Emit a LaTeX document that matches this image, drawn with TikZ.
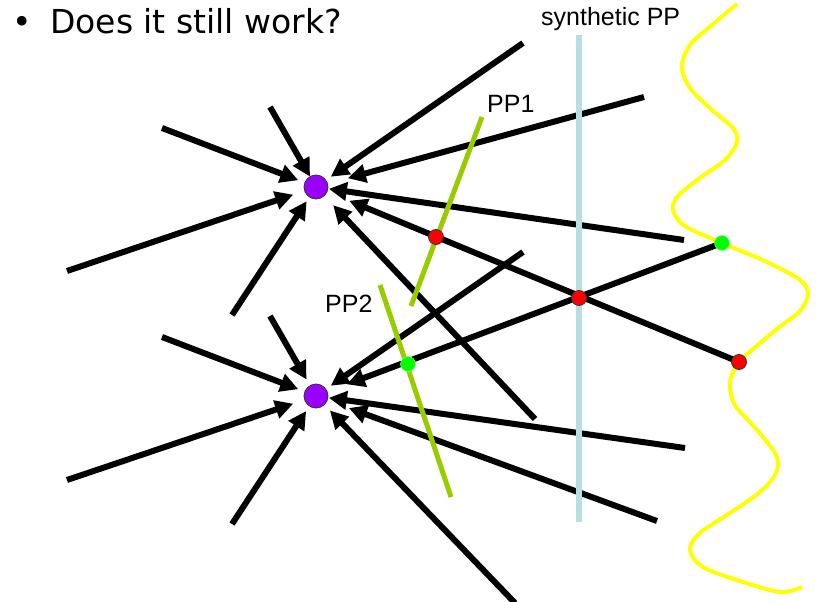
\documentclass[tikz,border=0pt]{standalone}
\usepackage{fontspec}
\setmainfont{Liberation Sans}
\newfontfamily\titlefont{DejaVu Sans}
\usetikzlibrary{arrows.meta}
\definecolor{ppgreen}{HTML}{99CC00}
\definecolor{synblue}{HTML}{B7DEE3}
\definecolor{curveyellow}{HTML}{FFFF00}
\definecolor{dotpurple}{HTML}{9900FF}
\definecolor{dotgreen}{HTML}{00FF00}
\tikzset{
  ray/.style={line width=6pt, -{Triangle[length=18pt,width=18pt]}},
  plane/.style={line width=5pt},
  target/.style={circle, fill=dotpurple, draw=black!80, line width=0.8pt, minimum size=24pt, inner sep=0pt, outer sep=0pt},
  reddot/.style={circle, fill=red, draw=black!80, line width=0.8pt, minimum size=15pt, inner sep=0pt},
  greendot/.style={circle, fill=dotgreen, draw=dotgreen!50!white, line width=0.5pt, minimum size=15pt, inner sep=0pt},
  lbl/.style={font=\fontsize{25}{30}\selectfont, inner sep=0pt, anchor=base west},
  ttl/.style={font=\titlefont\fontsize{33}{40}\selectfont, inner sep=0pt, anchor=base west}
}
\begin{document}
\begin{tikzpicture}[x=1pt,y=-1pt]
\fill[white] (0,0) rectangle (823,602);
\useasboundingbox (0,0) rectangle (823,602);

% title and labels
\node[ttl] (bullet) at (12,34) {•};
\node[ttl] (title) at (50,34) {Does it still work?};
\node[lbl] (synlabel) at (541,26) {synthetic PP};
\node[lbl] (pp1label) at (487,113) {PP1};
\node[lbl] (pp2label) at (325,312) {PP2};

% targets
\node[target] (P1) at (316,187) {};
\node[target] (P2) at (316,396) {};

% ray start points
\coordinate (a1) at (162,128);
\coordinate (a2) at (270,107);
\coordinate (a3) at (67,271);
\coordinate (a4) at (232,315);
\coordinate (a5) at (523,43);
\coordinate (a6) at (644,97);
\coordinate (a7) at (684,240);
\coordinate (r3) at (739,362);
\coordinate (a9) at (535,419);
\coordinate (b1) at (162,337);
\coordinate (b2) at (270,316);
\coordinate (b3) at (67,480);
\coordinate (b4) at (232,524);
\coordinate (b5) at (523,252);
\coordinate (g1) at (722,243);
\coordinate (b7) at (685,448);
\coordinate (b8) at (657,521);
\coordinate (b9) at (515,603);
\coordinate (r1) at (436,237);
\coordinate (r2) at (579,298);
\coordinate (g2) at (408,364);

% rays into P1
\draw[ray, shorten >=7pt] (a1) -- (P1);
\draw[ray, shorten >=0pt] (a2) -- (P1);
\draw[ray, shorten >=12pt] (a3) -- (P1);
\draw[ray, shorten >=5pt] (a4) -- (P1);
\draw[ray, shorten >=6pt] (a5) -- (P1);
\draw[ray, shorten >=21pt] (a6) -- (P1);
\draw[ray, shorten >=1pt] (a7) -- (P1);
\draw[ray, shorten >=24pt] (r3) -- (P1);
\draw[ray, shorten >=13pt] (a9) -- (P1);

% rays into P2
\draw[ray, shorten >=7pt] (b1) -- (P2);
\draw[ray, shorten >=7pt] (b2) -- (P2);
\draw[ray, shorten >=12pt] (b3) -- (P2);
\draw[ray, shorten >=6pt] (b4) -- (P2);
\draw[ray, shorten >=6pt] (b5) -- (P2);
\draw[ray, shorten >=21pt] (g1) -- (P2);
\draw[ray, shorten >=1pt] (b7) -- (P2);
\draw[ray, shorten >=23pt] (b8) -- (P2);
\draw[ray, shorten >=8pt] (b9) -- (P2);

% planes
\coordinate (pp1top) at (482,117);
\coordinate (pp1bot) at (411,306);
\coordinate (pp2top) at (380,285);
\coordinate (pp2bot) at (451,497);
\coordinate (syntop) at (579,35);
\coordinate (synbot) at (579,522);
\draw[plane, ppgreen] (pp1top) -- (pp1bot);
\draw[plane, ppgreen] (pp2top) -- (pp2bot);
\draw[line width=6pt, synblue] (syntop) -- (synbot);

% wavy surface
\draw[line width=4pt, curveyellow] plot[smooth, tension=0.55] coordinates {
 (737,4) (712,25) (690,45) (682,67) (690,88) (712,110) (733,128) (737,142)
 (725,160) (700,178) (678,196) (673,210) (685,226) (722,243) (767,262)
 (800,280) (808,294) (800,311) (777,329) (752,350) (739,362) (730,382)
 (735,405) (757,430) (776,455) (776,473) (760,492) (730,513) (700,533)
 (690,550) (703,567) (740,581) (780,592) (802,587)};

% points
\node[reddot] (red1) at (r1) {};
\node[reddot] (red2) at (r2) {};
\node[reddot] (red3) at (r3) {};
\node[greendot] (green1) at (g1) {};
\node[greendot] (green2) at (g2) {};
\end{tikzpicture}
\end{document}
